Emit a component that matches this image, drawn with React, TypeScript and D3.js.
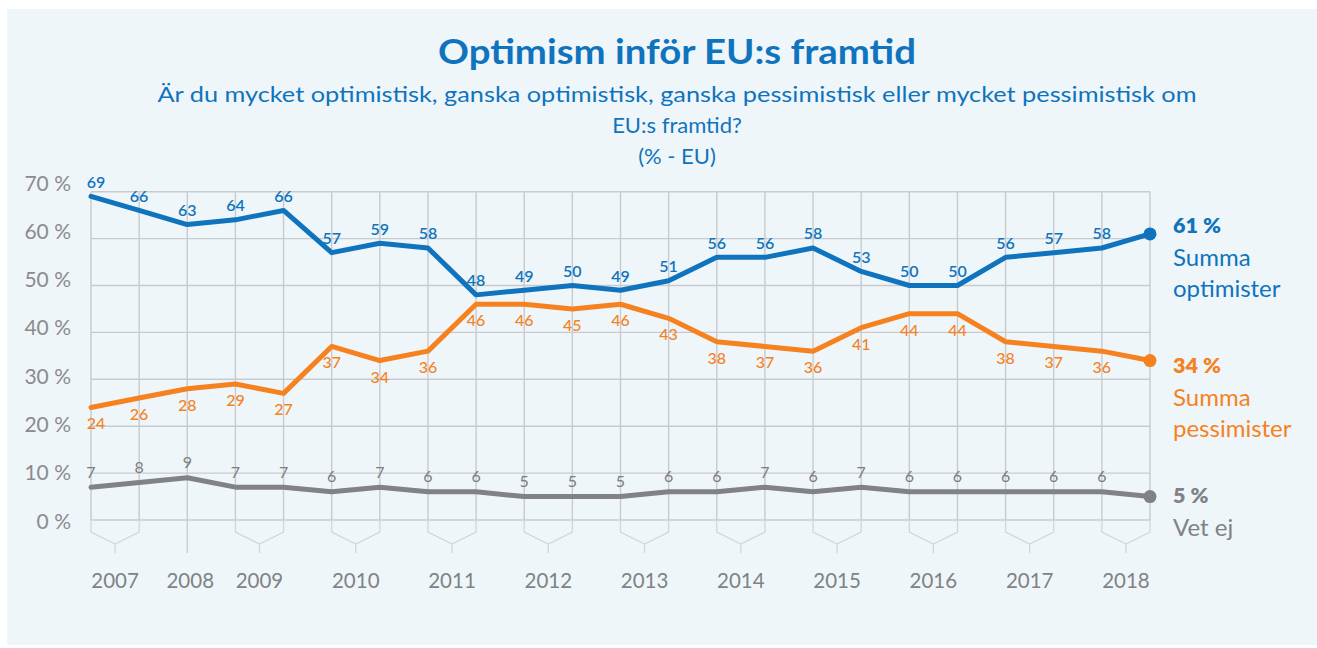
import React from "react";
import * as d3 from "d3";

const points = d3.range(23);
const optimists = [69, 66, 63, 64, 66, 57, 59, 58, 48, 49, 50, 49, 51, 56, 56, 58, 53, 50, 50, 56, 57, 58, 61];
const pessimists = [24, 26, 28, 29, 27, 37, 34, 36, 46, 46, 45, 46, 43, 38, 37, 36, 41, 44, 44, 38, 37, 36, 34];
const dontKnow = [7, 8, 9, 7, 7, 6, 7, 6, 6, 5, 5, 5, 6, 6, 7, 6, 7, 6, 6, 6, 6, 6, 5];

const years = ["2007", "2008", "2009", "2010", "2011", "2012", "2013", "2014", "2015", "2016", "2017", "2018"];
const yearStart = [0, 2, 3, 5, 7, 9, 11, 13, 15, 17, 19, 21];
const yearEnd = [1, 2, 4, 6, 8, 10, 12, 14, 16, 18, 20, 22];

const yTicks = [0, 10, 20, 30, 40, 50, 60, 70];

const title = "Optimism inför EU:s framtid";
const subtitleLines = [
  "Är du mycket optimistisk, ganska optimistisk, ganska pessimistisk eller mycket pessimistisk om",
  "EU:s framtid?",
  "(% - EU)",
];

const BLUE = "#0f74bd";
const ORANGE = "#f5821f";
const GRAY = "#808285";
const GRID = "#c8cbce";
const BG = "#eff6fa";
const FONT = "Lato, 'Open Sans', sans-serif";

const series = [
  { key: "opt", values: optimists, color: BLUE, labelDy: -8.5, weight: 600, labelColor: BLUE, legendVal: "61 %", legendName: ["Summa", "optimister"], legendY: 233 },
  { key: "pes", values: pessimists, color: ORANGE, labelDy: 22, weight: 500, labelColor: ORANGE, legendVal: "34 %", legendName: ["Summa", "pessimister"], legendY: 373 },
  { key: "dk", values: dontKnow, color: GRAY, labelDy: -9.5, weight: 400, labelColor: "#7a7c7f", legendVal: "5 %", legendName: ["Vet ej"], legendY: 503 },
];

export default function App() {
  const W = 1317;
  const H = 648;
  const x = d3.scalePoint<number>().domain(points).range([91, 1150]);
  const y = d3.scaleLinear().domain([0, 70]).range([520, 191.7]);
  const yLabel = d3.scaleLinear().domain([0, 70]).range([528.5, 190.5]);

  const line = d3
    .line<number>()
    .x((_, i) => x(i) as number)
    .y((d) => y(d));

  const gridTop = y(70);
  const gridBottom = y(0);
  const bracketBottom = gridBottom + 12;
  const bracketApex = gridBottom + 24;
  const stubEnd = gridBottom + 33;

  return (
    <div style={{ position: "absolute", left: 0, top: 0 }}>
      <svg width={W} height={H} style={{ display: "block", fontFamily: FONT }}>
        <rect x={0} y={0} width={W} height={H} fill="#ffffff" />
        <rect x={7} y={9} width={W - 7} height={H - 12} fill={BG} />

        <text x={677} y={64} textAnchor="middle" fontSize={35} fontWeight={700} fill={BLUE} textLength={478} lengthAdjust="spacingAndGlyphs">
          {title}
        </text>
        {subtitleLines.map((s, i) => (
          <text
            key={i}
            x={677}
            y={101.7 + i * 31.3}
            textAnchor="middle"
            fontSize={22}
            fill={BLUE}
            textLength={i === 0 ? 1039 : undefined}
            lengthAdjust="spacingAndGlyphs"
          >
            {s}
          </text>
        ))}

        {yTicks.map((t) => (
          <line key={"h" + t} x1={x(0)} x2={x(22)} y1={y(t)} y2={y(t)} stroke={GRID} strokeWidth={1.4} />
        ))}
        {points.map((p) => (
          <line key={"v" + p} x1={x(p)} x2={x(p)} y1={gridTop} y2={gridBottom} stroke={GRID} strokeWidth={1.4} />
        ))}
        {years.map((yr, i) => {
          const a = x(yearStart[i]) as number;
          const b = x(yearEnd[i]) as number;
          const mid = (a + b) / 2;
          return (
            <g key={yr}>
              {a === b ? (
                <line x1={a} x2={a} y1={gridBottom} y2={stubEnd} stroke={GRID} strokeWidth={1.3} />
              ) : (
                <>
                  <path
                    d={`M${a},${gridBottom}L${a},${bracketBottom}L${mid},${bracketApex}L${b},${bracketBottom}L${b},${gridBottom}`}
                    fill="none"
                    stroke="#d3d6d9"
                    strokeWidth={1.3}
                  />
                  <line x1={mid} x2={mid} y1={bracketApex} y2={stubEnd} stroke="#d3d6d9" strokeWidth={1.3} />
                </>
              )}
              <text x={mid + (a === b ? 3 : 0)} y={588} textAnchor="middle" fontSize={20.5} fill="#808285">
                {yr}
              </text>
            </g>
          );
        })}

        {yTicks.map((t) => (
          <text key={"yl" + t} x={71} y={yLabel(t)} textAnchor="end" fontSize={21} fill="#8a8b8d">
            {t + " %"}
          </text>
        ))}

        {series.map((s) => (
          <path key={s.key} d={line(s.values) || ""} fill="none" stroke={s.color} strokeWidth={5} strokeLinejoin="round" strokeLinecap="round" />
        ))}
        {series.map((s) => (
          <circle key={"c" + s.key} cx={x(22)} cy={y(s.values[22])} r={6.5} fill={s.color} />
        ))}

        {series.map((s) => (
          <g key={"l" + s.key}>
            {s.values.slice(0, 22).map((v, i) => (
              <text
                key={i}
                x={(x(i) as number) + (i === 0 && s.key !== "dk" ? 5 : 0)}
                y={y(v) + s.labelDy}
                textAnchor="middle"
                fontSize={16}
                fontWeight={s.weight}
                fill={s.labelColor}
              >
                {v}
              </text>
            ))}
          </g>
        ))}

        {series.map((s) => (
          <g key={"lg" + s.key}>
            <text x={1173} y={s.legendY} fontSize={21.5} fontWeight={800} fill={s.color}>
              {s.legendVal}
            </text>
            {s.legendName.map((n, j) => (
              <text key={j} x={1173} y={s.legendY + 32.5 + j * 31} fontSize={24} fill={s.color}>
                {n}
              </text>
            ))}
          </g>
        ))}
      </svg>
    </div>
  );
}
